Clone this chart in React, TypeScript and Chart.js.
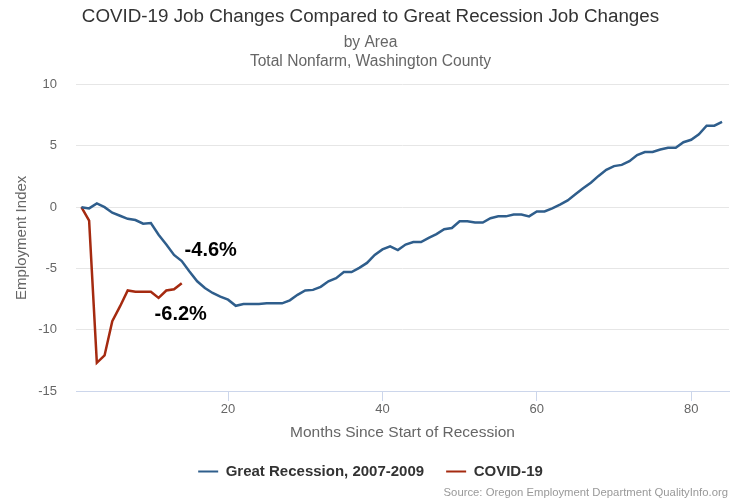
import React, { useEffect, useRef } from 'react';
import { Chart, registerables } from 'chart.js';

Chart.register(...registerables);

// ---- Data ----
const greatRecession: number[] = [
  0, -0.1, 0.3, 0, -0.45, -0.7, -0.95, -1.05, -1.35, -1.3,
  -2.25, -3.05, -3.9, -4.4, -5.25, -6.05, -6.6, -7.0, -7.3, -7.55,
  -8.05, -7.9, -7.9, -7.9, -7.85, -7.85, -7.85, -7.6, -7.15, -6.8,
  -6.75, -6.5, -6.05, -5.8, -5.3, -5.3, -4.95, -4.55, -3.9, -3.45,
  -3.2, -3.5, -3.05, -2.85, -2.85, -2.5, -2.2, -1.8, -1.7, -1.15,
  -1.15, -1.25, -1.25, -0.9, -0.75, -0.75, -0.6, -0.6, -0.75, -0.35,
  -0.35, -0.1, 0.2, 0.55, 1.05, 1.55, 2.0, 2.55, 3.05, 3.35,
  3.45, 3.75, 4.25, 4.5, 4.5, 4.7, 4.85, 4.85, 5.3, 5.5,
  5.95, 6.65, 6.65, 6.95,
];

const covid19: number[] = [
  0, -1.1, -12.7, -12.1, -9.3, -8.1, -6.8, -6.9, -6.9, -6.9,
  -7.4, -6.8, -6.7, -6.2,
];

const xTickValues: number[] = [20, 40, 60, 80];
const yTickValues: number[] = [-15, -10, -5, 0, 5, 10];

const seriesNames: string[] = ['Great Recession, 2007-2009', 'COVID-19'];
const labelTexts: string[] = ['-4.6%', '-6.2%'];

const TITLE = 'COVID-19 Job Changes Compared to Great Recession Job Changes';
const SUBTITLE = ['by Area', 'Total Nonfarm, Washington County'];
const X_TITLE = 'Months Since Start of Recession';
const Y_TITLE = 'Employment Index';
const SOURCE = 'Source: Oregon Employment Department QualityInfo.org';

const BLUE = '#2f5e8c';
const RED = '#a52a10';
const FONT = '"Liberation Sans", Arial, sans-serif';

// plugin: data labels at the last COVID month and the same Great Recession month
const dataLabelPlugin = {
  id: 'customDataLabels',
  afterDatasetsDraw(chart: any, _args: any, opts: any) {
    const ctx = chart.ctx;
    ctx.save();
    ctx.font = `bold ${opts.size}px ${FONT}`;
    ctx.fillStyle = '#000000';
    ctx.textAlign = 'center';
    ctx.textBaseline = 'middle';
    (opts.items || []).forEach((it: any) => {
      const meta = chart.getDatasetMeta(it.datasetIndex);
      const pt = meta.data[it.index];
      if (!pt) return;
      ctx.fillText(it.text, pt.x + it.dx, pt.y + it.dy);
    });
    ctx.restore();
  },
};

const sourcePlugin = {
  id: 'sourceCredit',
  afterDraw(chart: any, _args: any, opts: any) {
    const ctx = chart.ctx;
    ctx.save();
    ctx.font = `${opts.size}px ${FONT}`;
    ctx.fillStyle = '#999999';
    ctx.textAlign = 'right';
    ctx.textBaseline = 'middle';
    ctx.fillText(opts.text, chart.width - opts.right, chart.height - opts.bottom);
    ctx.restore();
  },
};

export default function App() {
  const canvasRef = useRef<HTMLCanvasElement | null>(null);

  useEffect(() => {
    document.body.style.margin = '0';
    const canvas = canvasRef.current;
    if (!canvas) return;

    const chart = new Chart(canvas, {
      type: 'line',
      data: {
        datasets: [
          {
            label: seriesNames[0],
            data: greatRecession.map((v, i) => ({ x: i + 1, y: v })),
            borderColor: BLUE,
            backgroundColor: BLUE,
            borderWidth: 2.5,
            pointRadius: 0,
            pointHoverRadius: 0,
            tension: 0,
            fill: false,
          },
          {
            label: seriesNames[1],
            data: covid19.map((v, i) => ({ x: i + 1, y: v })),
            borderColor: RED,
            backgroundColor: RED,
            borderWidth: 2.5,
            pointRadius: 0,
            pointHoverRadius: 0,
            tension: 0,
            fill: false,
          },
        ],
      },
      options: {
        responsive: false,
        animation: false,
        devicePixelRatio: 1,
        layout: { padding: { left: 12, right: 21, top: 0, bottom: 15 } },
        font: { family: FONT },
        scales: {
          x: {
            type: 'linear',
            min: 0.3,
            max: 84.9,
            afterBuildTicks: (s: any) => {
              s.ticks = xTickValues.map((v) => ({ value: v }));
            },
            afterFit: (s: any) => {
              s.height = 51;
            },
            grid: {
              drawOnChartArea: false,
              drawTicks: true,
              tickLength: 10,
              color: '#ccd6eb',
            },
            border: { display: true, color: '#ccd6eb', width: 1 },
            ticks: {
              color: '#666666',
              font: { family: FONT, size: 13 },
              padding: 1,
              maxRotation: 0,
              autoSkip: false,
            },
            title: {
              display: true,
              text: X_TITLE,
              color: '#666666',
              font: { family: FONT, size: 15.5, lineHeight: 18 / 15.5 },
              padding: { top: 0, bottom: 0 },
            },
          },
          y: {
            type: 'linear',
            min: -15,
            max: 10,
            afterBuildTicks: (s: any) => {
              s.ticks = yTickValues.map((v) => ({ value: v }));
            },
            afterFit: (s: any) => {
              s.width = 64;
            },
            grid: {
              drawTicks: false,
              color: (c: any) => (c.tick && c.tick.value === -15 ? 'rgba(0,0,0,0)' : '#e6e6e6'),
              lineWidth: 1,
            },
            border: { display: false },
            ticks: {
              color: '#666666',
              font: { family: FONT, size: 13 },
              padding: 19,
            },
            title: {
              display: true,
              text: Y_TITLE,
              color: '#666666',
              font: { family: FONT, size: 15 },
              padding: { top: 1, bottom: 0 },
            },
          },
        },
        plugins: {
          title: {
            display: true,
            text: TITLE,
            color: '#333333',
            font: { family: FONT, size: 18.8, weight: 'normal', lineHeight: 21.6 / 18.8 },
            padding: { top: 6, bottom: 6 },
          },
          subtitle: {
            display: true,
            text: SUBTITLE,
            color: '#666666',
            font: { family: FONT, size: 15.6, lineHeight: 19 / 15.6 },
            padding: { top: 0, bottom: 13 },
          },
          legend: {
            display: true,
            position: 'bottom',
            labels: {
              color: '#333333',
              font: { family: FONT, size: 15, weight: 'bold' },
              boxWidth: 20,
              boxHeight: 2,
              padding: 22,
              generateLabels: (ch: any) => {
                const items = Chart.defaults.plugins.legend.labels.generateLabels(ch);
                return items.map((it: any) => ({ ...it, lineWidth: 0 }));
              },
            },
          },
          tooltip: { enabled: false },
          customDataLabels: {
            size: 20,
            items: [
              { datasetIndex: 0, index: 13, text: labelTexts[0], dx: 29, dy: -11 },
              { datasetIndex: 1, index: 13, text: labelTexts[1], dx: -1, dy: 31 },
            ],
          },
          sourceCredit: { text: SOURCE, right: 22, bottom: 11, size: 11.3 },
        } as any,
      },
      plugins: [dataLabelPlugin, sourcePlugin],
    } as any);

    return () => {
      chart.destroy();
    };
  }, []);

  return (
    <div style={{ position: 'absolute', left: 0, top: 0, width: 750, height: 504 }}>
      <canvas ref={canvasRef} width={750} height={504} />
    </div>
  );
}
